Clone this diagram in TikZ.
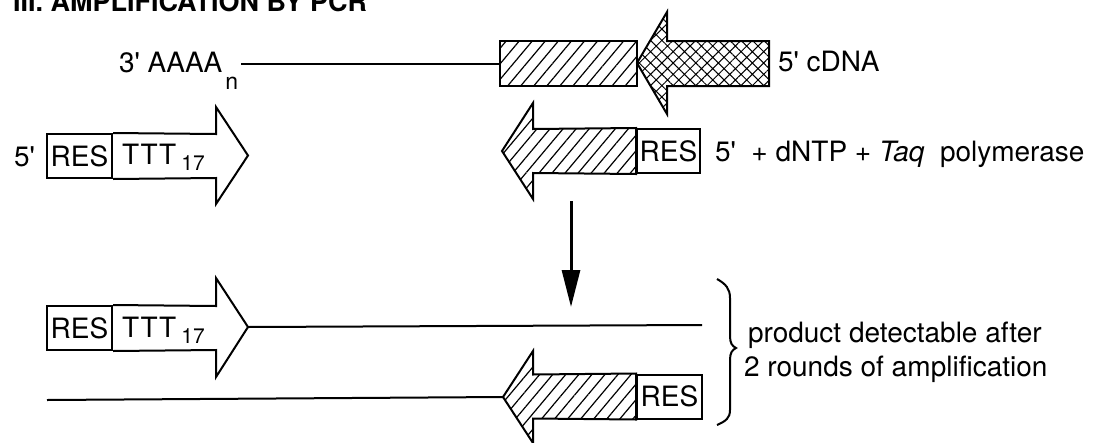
\documentclass[tikz,border=0pt]{standalone}
\usepackage{fontspec}
\setmainfont{TeX Gyre Heros}
\usetikzlibrary{patterns.meta,arrows.meta}
\begin{document}
\begin{tikzpicture}[x=1pt,y=-1pt, line width=2pt,
  txt/.style={inner sep=0pt, font=\fontsize{28pt}{34pt}\selectfont},
  resbox/.style={draw, inner sep=0pt, minimum width=65pt, minimum height=44pt, font=\fontsize{28pt}{34pt}\selectfont},
  hatch/.style={pattern={Lines[angle=50,distance=10pt,line width=1.2pt]}},
  xhatch/.style={pattern={Hatch[angle=45,distance=8pt,line width=1pt]}}
]
\useasboundingbox (0,0) rectangle (1094,442);
% title
\node[anchor=base west, inner sep=0pt, font=\bfseries\fontsize{27pt}{30pt}\selectfont] (title) at (12,11) {III. AMPLIFICATION BY PCR};
% row 1
\node[txt, anchor=base west] (polyA) at (118,72) {3\textquotesingle\ AAAA\hspace{3pt}\raisebox{-17pt}{\fontsize{23pt}{23pt}\selectfont n}};
\node[draw, hatch, minimum width=137pt, minimum height=45pt, inner sep=0pt] (hb1) at (568.5,63.5) {};
\draw ([xshift=2pt]polyA.east |- hb1.west) -- (hb1.west);
\draw[xhatch] (769,41) -- (667,41) -- (667,12) -- (637,63) -- (667,114) -- (667,86) -- (769,86) -- cycle;
\node[txt, anchor=base west] (cdna) at (777,71) {5\textquotesingle\ cDNA};
% row 2 forward primer
\node[txt, anchor=base west] (f5) at (13,166) {5\textquotesingle};
\node[resbox] (res2) at (79.5,156) {RES};
\draw (res2.north east) -- (216,134) -- (216,107) -- (248,155.5) -- (216,204) -- (216,178) -- (res2.south east);
\node[txt, anchor=base west] (ttt2) at (121,164) {T\kern1.5pt T\kern1.5pt T\hspace{5pt}\raisebox{-6pt}{\fontsize{21pt}{21pt}\selectfont 17}};
% row 2 reverse primer
\node[resbox, minimum width=63pt] (res2r) at (668.5,151) {RES};
\draw[hatch] (res2r.north west) -- (533,129) -- (533,103) -- (502,151) -- (533,199) -- (533,173) -- (res2r.south west) -- cycle;
\node[txt, anchor=base west] (mix) at (714,161) {5\textquotesingle\ \ + dNTP + \textit{Taq}\ \ polymerase};
% vertical arrow
\coordinate (va) at (571,201);
\coordinate (vb) at (571,307);
\draw[line width=3pt, -{Triangle[length=37pt,width=18pt]}] (va) -- (vb);
% row 3
\node[resbox] (res3) at (79.5,328) {RES};
\draw (res3.north east) -- (216,306) -- (216,278) -- (248,327) -- (216,377) -- (216,350) -- (res3.south east);
\node[txt, anchor=base west] (ttt3) at (121,337) {T\kern1.5pt T\kern1.5pt T\hspace{5pt}\raisebox{-6pt}{\fontsize{21pt}{21pt}\selectfont 17}};
\coordinate (t3) at (248,327);
\coordinate (e3) at (702,325);
\draw (t3) -- (e3);
% row 4
\node[resbox] (res4) at (669.5,396.5) {RES};
\draw[hatch] (res4.north west) -- (533,374.5) -- (533,351) -- (503,397) -- (533,443) -- (533,418.5) -- (res4.south west) -- cycle;
\coordinate (s4) at (47,400);
\coordinate (t4) at (503,397);
\draw (s4) -- (t4);
% brace
\draw (717,279) .. controls (726,284) and (730,289) .. (730,298) -- (730,336) .. controls (730,343) and (732,346) .. (736,348) .. controls (732,350) and (730,353) .. (730,360) -- (730,410) .. controls (730,418) and (726,421) .. (717,425);
\node[txt, anchor=base west] (p1) at (747,342) {product detectable after};
\node[txt, anchor=base west] (p2) at (743,376) {2 rounds of amplification};
\end{tikzpicture}
\end{document}
